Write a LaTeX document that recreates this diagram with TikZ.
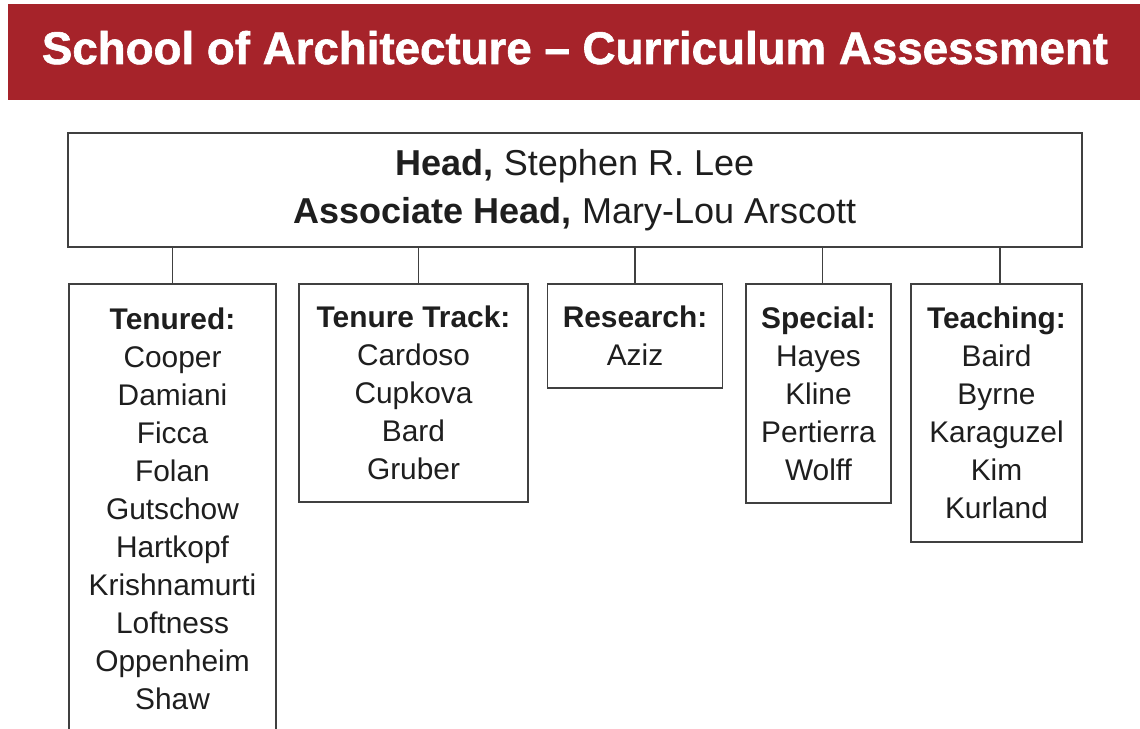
\documentclass[tikz,border=0pt]{standalone}
\usepackage{fontspec}
\setmainfont{Liberation Sans}
\newfontfamily\titlefont[FakeBold=1.3,Ligatures=TeX]{Liberation Sans Bold}
\usetikzlibrary{positioning}

\definecolor{titlered}{RGB}{166,35,42}
\definecolor{boxline}{RGB}{64,64,64}
\definecolor{nametext}{RGB}{30,30,30}
\newcommand{\px}{0.02cm}

\tikzset{
  groupbox/.style={draw=boxline, line width=1.1pt, align=center, inner sep=0pt,
    anchor=north, text=nametext, font=\fontsize{17}{21.6}\selectfont},
  link/.style={draw=boxline, line width=1.1pt},
}

\begin{document}
\begin{tikzpicture}[x=\px,y=-\px]
  \useasboundingbox (0,0) rectangle (1140,729);
  \clip (0,0) rectangle (1140,729);

  % Title bar
  \fill[titlered] (8,4) rectangle (1140,100);
  \node[anchor=base, text=white, inner sep=0pt, font=\titlefont\fontsize{26}{30}\selectfont]
    (title) at (575,64) {\scalebox{1.0}[1]{School of Architecture – Curriculum Assessment}};

  % Head box
  \node[draw=boxline, line width=1.1pt, align=center, inner sep=0pt, text=nametext,
    minimum width=1014*\px, minimum height=114*\px, font=\fontsize{20.5}{27.3}\selectfont]
    (head) at (575,190) {\textbf{Head,} Stephen R. Lee\\ \textbf{Associate Head,} Mary-Lou Arscott};

  % Faculty groups
  \node[groupbox, minimum width=207*\px, minimum height=450*\px] (tenured) at (172.5,283)
    {\textbf{Tenured:}\\ Cooper\\ Damiani\\ Ficca\\ Folan\\ Gutschow\\ Hartkopf\\ Krishnamurti\\ Loftness\\ Oppenheim\\ Shaw};
  \node[groupbox, minimum width=229*\px, minimum height=218*\px] (track) at (413.5,283)
    {\textbf{Tenure Track:}\\ Cardoso\\ Cupkova\\ Bard\\ Gruber};
  \node[groupbox, minimum width=175*\px, minimum height=104*\px] (research) at (635,283)
    {\textbf{Research:}\\ Aziz};
  \node[groupbox, minimum width=145*\px, minimum height=219*\px] (special) at (818.5,283)
    {\textbf{Special:}\\ Hayes\\ Kline\\ Pertierra\\ Wolff};
  \node[groupbox, minimum width=171*\px, minimum height=258*\px] (teaching) at (996.5,283)
    {\textbf{Teaching:}\\ Baird\\ Byrne\\ Karaguzel\\ Kim\\ Kurland};

  % Links to the head box (a few px off centre, as drawn)
  \foreach \g/\dx in {tenured/0,track/5,research/0,special/4,teaching/3.5}
    \draw[link] ([xshift=\dx*\px]\g.north) -- ([xshift=\dx*\px]\g.north |- head.south);
\end{tikzpicture}
\end{document}
